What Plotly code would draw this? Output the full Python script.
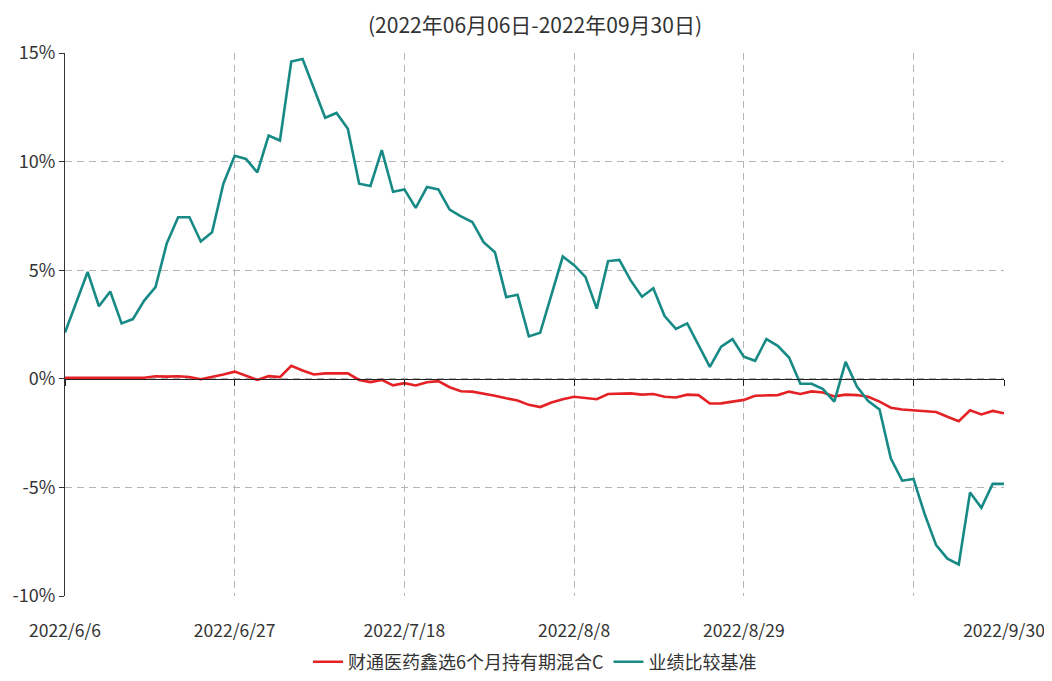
import pandas as pd
import plotly.graph_objects as go

# Trading days 2022-06-06 .. 2022-09-30 (Mid-Autumn holiday 2022-09-12 excluded)
HOLIDAYS = ["2022-09-12"]
_days = [d for d in pd.bdate_range("2022-06-06", "2022-09-30") if d.strftime("%Y-%m-%d") not in HOLIDAYS]
DATES = [f"{d.year}/{d.month}/{d.day}" for d in _days]

FUND_NAME = "财通医药鑫选6个月持有期混合C"
BENCH_NAME = "业绩比较基准"

FUND = [
    0.05, 0.05, 0.05, 0.05, 0.05, 0.05, 0.03, 0.05, 0.12, 0.10,
    0.12, 0.08, -0.02, 0.08, 0.20, 0.33, 0.15, -0.05, 0.12, 0.08,
    0.60, 0.38, 0.20, 0.25, 0.25, 0.25, -0.05, -0.15, -0.05, -0.30,
    -0.20, -0.31, -0.16, -0.11, -0.39, -0.57, -0.59, -0.67, -0.78, -0.90,
    -1.00, -1.20, -1.30, -1.09, -0.94, -0.83, -0.89, -0.94, -0.70, -0.70,
    -0.67, -0.73, -0.70, -0.83, -0.86, -0.73, -0.75, -1.14, -1.13, -1.05,
    -0.97, -0.78, -0.75, -0.75, -0.59, -0.70, -0.58, -0.63, -0.81, -0.73,
    -0.75, -0.83, -1.05, -1.33, -1.41, -1.44, -1.48, -1.53, -1.75, -1.95,
    -1.45, -1.64, -1.48, -1.59,
]

BENCH = [
    2.13, 3.50, 4.92, 3.34, 4.02, 2.55, 2.75, 3.60, 4.22, 6.24,
    7.44, 7.44, 6.32, 6.75, 8.98, 10.27, 10.12, 9.50, 11.20, 10.97,
    14.61, 14.72, 13.37, 12.02, 12.24, 11.51, 8.98, 8.88, 10.53, 8.61,
    8.72, 7.87, 8.83, 8.72, 7.79, 7.48, 7.22, 6.29, 5.83, 3.76,
    3.87, 1.95, 2.12, 3.85, 5.63, 5.23, 4.69, 3.23, 5.42, 5.47,
    4.53, 3.78, 4.17, 2.89, 2.30, 2.55, 1.56, 0.55, 1.48, 1.83,
    1.02, 0.83, 1.83, 1.52, 0.98, -0.23, -0.23, -0.47, -1.05, 0.78,
    -0.36, -1.02, -1.41, -3.67, -4.69, -4.61, -6.25, -7.66, -8.28, -8.55,
    -5.23, -5.94, -4.84, -4.84,
]

TICK_IDX = [0, 15, 30, 45, 60, 75, 83]
TICK_VALS = [DATES[i] for i in TICK_IDX]
TICK_TEXT = ["2022/6/6", "2022/6/27", "2022/7/18", "2022/8/8", "2022/8/29", "", "2022/9/30"]

Y_TICKS = [-10, -5, 0, 5, 10, 15]
TITLE = "(2022年06月06日-2022年09月30日)"

RED = "#e42226"
TEAL = "#178a86"
FONT = "Noto Sans CJK SC"

# the page places the figure 8px from the top-left corner; keep it inside the window
W, H = 1036, 665

fig = go.Figure()
fig.add_trace(go.Scatter(x=DATES, y=FUND, mode="lines", name=FUND_NAME,
                         line=dict(color=RED, width=2.6)))
fig.add_trace(go.Scatter(x=DATES, y=BENCH, mode="lines", name=BENCH_NAME,
                         line=dict(color=TEAL, width=2.6)))
# invisible trace so that the zero-line axis is rendered
fig.add_trace(go.Scatter(x=DATES, y=[None] * len(DATES), xaxis="x2", mode="lines",
                         showlegend=False, hoverinfo="skip"))

fig.update_layout(
    width=W, height=H,
    paper_bgcolor="white", plot_bgcolor="white",
    margin=dict(l=57, r=40, t=45, b=77, autoexpand=False),
    font=dict(family=FONT, color="#333333"),
    title=dict(text=TITLE, x=527 / W, xanchor="center", y=1 - 18 / H, yanchor="middle",
               xref="container", yref="container",
               font=dict(size=21, color="#333333", family=FONT)),
    showlegend=True,
    legend=dict(orientation="h", x=527 / W, xanchor="center", y=1 - 654 / H, yanchor="middle",
                xref="container", yref="container",
                font=dict(size=18, color="#333333", family=FONT),
                tracegroupgap=0, bgcolor="rgba(0,0,0,0)"),
    xaxis=dict(type="category", range=[0, len(DATES) - 1], automargin=False,
               tickmode="array", tickvals=TICK_VALS, ticktext=TICK_TEXT,
               showgrid=True, gridcolor="#b5b5b5", griddash="7px,5px", gridwidth=1,
               showline=False, zeroline=False, ticks="", ticklabelstandoff=22,
               tickfont=dict(size=17.5, color="#333333", family=FONT)),
    xaxis2=dict(type="category", overlaying="x", matches="x", anchor="free", position=0.4,
                side="bottom", tickmode="array", tickvals=TICK_VALS, automargin=False,
                showticklabels=False, showgrid=False, zeroline=False,
                showline=True, linecolor="#222222", linewidth=1.3,
                ticks="outside", ticklen=6, tickcolor="#222222", tickwidth=1.3),
    yaxis=dict(range=[-10, 15], tickmode="array", tickvals=Y_TICKS, automargin=False,
               ticktext=[f"{v}%" for v in Y_TICKS],
               showgrid=True, gridcolor="#b5b5b5", griddash="7px,5px", gridwidth=1,
               zeroline=False, showline=True, linecolor="#333333", linewidth=1.2,
               ticks="outside", ticklen=5, tickcolor="#333333",
               tickfont=dict(size=18, color="#333333", family=FONT)),
)

fig.write_html("out.html")
